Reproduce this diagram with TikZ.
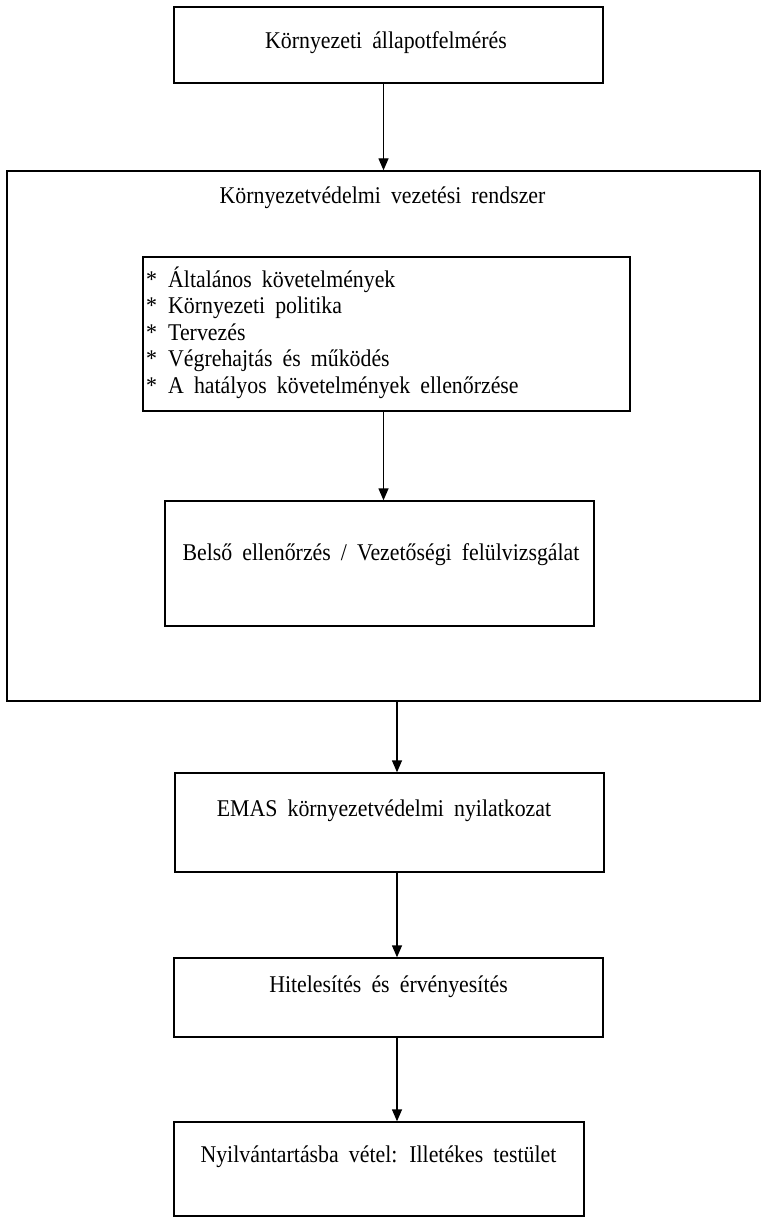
\documentclass[tikz,border=0pt]{standalone}
\usepackage{fontspec}
\setmainfont[FakeStretch=0.91]{Liberation Serif}
\usetikzlibrary{arrows.meta}
\newcommand{\lblfont}{\fontsize{24}{26.5}\selectfont\spaceskip=0.42em plus 0.1em\relax}
\begin{document}
\begin{tikzpicture}[x=1pt,y=-1pt,
  box/.style={draw,line width=1.4pt,rectangle,inner sep=0pt},
  lbl/.style={inner sep=0pt,anchor=base,font=\lblfont},
  arr/.style={line width=1.4pt,-{Triangle[length=12pt,width=10pt]}}]
\useasboundingbox (0,0) rectangle (772,1225);
\fill[white] (0,0) rectangle (772,1225);
\node[box,minimum width=429pt,minimum height=76pt] (b1) at (388.5,45) {};
\node[box,minimum width=753pt,minimum height=530pt] (big) at (383.5,436) {};
\node[box,minimum width=487pt,minimum height=154pt] (list) at (386.5,334) {};
\node[box,minimum width=429pt,minimum height=125pt] (bel) at (379.5,563.5) {};
\node[box,minimum width=429pt,minimum height=99pt] (emas) at (389.5,822.5) {};
\node[box,minimum width=429pt,minimum height=79pt] (hit) at (388.5,997.5) {};
\node[box,minimum width=410pt,minimum height=94pt] (nyil) at (379,1169) {};
\coordinate (ax) at (397,0);
\node[lbl] (t1) at (386,49) {Környezeti állapotfelmérés};
\node[lbl] (t2) at (382.5,204) {Környezetvédelmi vezetési rendszer};
\node[lbl,anchor=base west,align=left] (t3) at (146,393) {\makebox[22pt][l]{*}Általános követelmények\\\makebox[22pt][l]{*}Környezeti politika\\\makebox[22pt][l]{*}Tervezés\\\makebox[22pt][l]{*}Végrehajtás és működés\\\makebox[22pt][l]{*}A hatályos követelmények ellenőrzése};
\node[lbl] (t4) at (381,560) {Belső ellenőrzés / Vezetőségi felülvizsgálat};
\node[lbl] (t5) at (384,816) {EMAS környezetvédelmi nyilatkozat};
\node[lbl] (t6) at (388.5,992) {Hitelesítés és érvényesítés};
\node[lbl] (t7) at (378.5,1162) {Nyilvántartásba vétel: Illetékes testület};
\draw[arr] (b1.south -| big.north) -- (big.north);
\draw[arr] (list.south -| big.north) -- (bel.north -| big.north);
\draw[arr] (big.south -| ax) -- (emas.north -| ax);
\draw[arr] (emas.south -| ax) -- (hit.north -| ax);
\draw[arr] (hit.south -| ax) -- (nyil.north -| ax);
\end{tikzpicture}
\end{document}
